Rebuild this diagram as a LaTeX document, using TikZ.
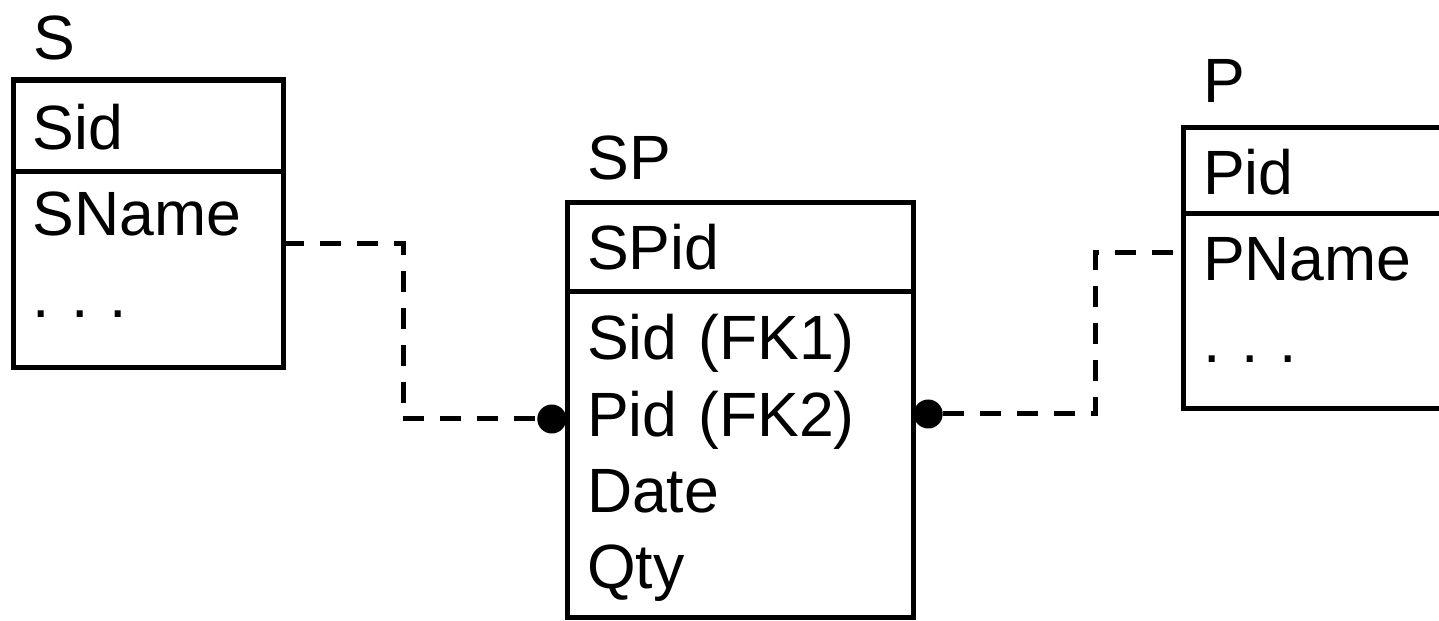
\documentclass[tikz,border=0pt]{standalone}
\usepackage{fontspec}
\setmainfont{Liberation Sans}
\usetikzlibrary{positioning}
\frenchspacing

\begin{document}
\begin{tikzpicture}[
    font=\fontsize{17.8}{21.7}\selectfont,
    keyrow/.style={
        rectangle,
        draw=black,
        line width=0.05cm,
        inner xsep=0.2cm,
        inner ysep=0pt,
        outer sep=0pt,
        align=left,
        text height=0.68cm,
        text depth=0.22cm
    },
    attrrow/.style={
        keyrow,
        text height=0.66cm
    },
    title/.style={
        anchor=base west,
        inner sep=0pt,
        xshift=0.2cm
    },
    fkdot/.style={
        circle,
        fill=black,
        inner sep=0pt,
        minimum size=0.29cm
    },
    fklink/.style={
        line width=0.05cm,
        dash pattern=on 0.21cm off 0.16cm
    }
  ]
  \useasboundingbox (0,0) rectangle (14.39,6.2);

  % table S
  \node [keyrow, anchor=north west, text width=2.3cm, text height=0.69cm, text depth=0.23cm] (Shead) at (0.13,5.40) {Sid};
  \node [attrrow, below=0pt of Shead, text width=2.3cm, text height=0.63cm, text depth=1.32cm] (Sbody) {SName\\[1.7pt]. . .};
  \node [title, yshift=0.2cm] (Stitle) at (Shead.north west) {S};

  % table SP
  \node [keyrow, anchor=north west, text width=3.06cm] (SPhead) at (5.67,4.18) {SPid};
  \node [attrrow, below=0pt of SPhead, text width=3.06cm, text height=0.68cm, text depth=2.58cm] (SPbody) {Sid (FK1)\\Pid (FK2)\\Date\\Qty};
  \node [title, yshift=0.22cm] (SPtitle) at (SPhead.north west) {SP};

  % table P
  \node [keyrow, anchor=north west, text width=2.6cm, text height=0.66cm, text depth=0.20cm] (Phead) at (11.83,4.92) {Pid};
  \node [attrrow, below=0pt of Phead, text width=2.6cm, text depth=1.29cm] (Pbody) {PName\\[1.7pt]. . .};
  \node [title, yshift=0.25cm] (Ptitle) at (Phead.north west) {P};

  % foreign keys
  \node [fkdot, anchor=east] (fk1) at ([yshift=0.36cm]SPbody.west) {};
  \node [fkdot, anchor=west] (fk2) at ([yshift=0.41cm]SPbody.east) {};

  \draw [fklink] ([yshift=-0.71cm]Sbody.north east) -- ++(1.2,0) |- (fk1);
  \draw [fklink] (fk2.east) -- ++(1.52,0) |- ([yshift=-0.39cm]Pbody.north west);

\end{tikzpicture}
\end{document}
